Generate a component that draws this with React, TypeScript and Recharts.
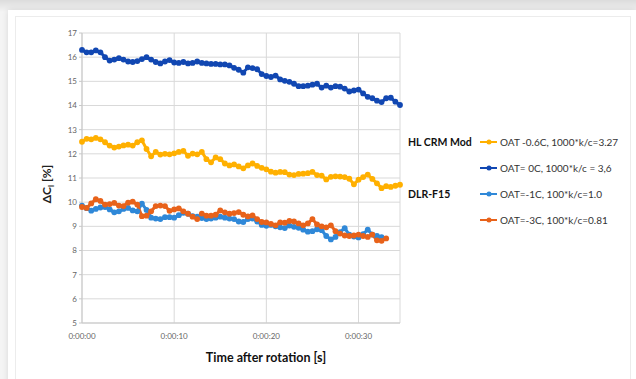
import { LineChart, Line, XAxis, YAxis, CartesianGrid } from "recharts";

// sample times [s]
const times = [
  0, 0.5, 1, 1.5, 2, 2.5, 3, 3.5, 4, 4.5, 5, 5.5, 6, 6.5, 7, 7.5, 8, 8.5, 9, 9.5,
  10, 10.5, 11, 11.5, 12, 12.5, 13, 13.5, 14, 14.5, 15, 15.5, 16, 16.5, 17, 17.5,
  18, 18.5, 19, 19.5, 20, 20.5, 21, 21.5, 22, 22.5, 23, 23.5, 24, 24.5, 25, 25.5,
  26, 26.5, 27, 27.5, 28, 28.5, 29, 29.5, 30, 30.5, 31, 31.5, 32, 32.5, 33, 33.5,
  34, 34.5,
];

// HL CRM Mod, OAT -0.6C
const hlWarm = [
  12.5, 12.62, 12.6, 12.66, 12.6, 12.48, 12.34, 12.26, 12.3, 12.35, 12.38, 12.34,
  12.48, 12.56, 12.2, 11.9, 12.08, 11.97, 12.0, 11.98, 12.02, 12.08, 12.12, 11.92,
  12.01, 11.98, 12.08, 11.78, 11.65, 11.85, 11.78, 11.6, 11.52, 11.56, 11.48, 11.4,
  11.52, 11.6, 11.5, 11.42, 11.36, 11.26, 11.22, 11.25, 11.24, 11.14, 11.12, 11.17,
  11.18, 11.2, 11.25, 11.12, 11.1, 10.94, 11.05, 11.07, 11.06, 11.04, 10.97, 10.74,
  10.93, 11.04, 11.14, 10.96, 10.78, 10.58, 10.66, 10.63, 10.68, 10.72,
];

// HL CRM Mod, OAT 0C
const hlCold = [
  16.3, 16.2, 16.2, 16.28, 16.2, 16.0, 15.86, 15.9, 15.96, 15.9, 15.82, 15.8,
  15.84, 15.92, 16.0, 15.9, 15.8, 15.74, 15.82, 15.88, 15.78, 15.76, 15.8, 15.74,
  15.76, 15.82, 15.76, 15.74, 15.72, 15.72, 15.7, 15.7, 15.66, 15.56, 15.48, 15.36,
  15.58, 15.55, 15.5, 15.3, 15.22, 15.18, 15.24, 15.08, 15.02, 14.98, 14.9, 14.8,
  14.8, 14.82, 14.86, 14.9, 14.74, 14.82, 14.74, 14.8, 14.78, 14.7, 14.58, 14.62,
  14.66, 14.5, 14.36, 14.3, 14.2, 14.14, 14.3, 14.32, 14.16, 14.02,
];

// DLR-F15, OAT -1C
const dlrA = [
  9.86, 9.75, 9.65, 9.72, 9.78, 9.8, 9.7, 9.58, 9.62, 9.72, 9.76, 9.66, 9.62, 9.94,
  9.68, 9.36, 9.32, 9.3, 9.38, 9.38, 9.36, 9.46, 9.56, 9.52, 9.42, 9.4, 9.34, 9.3,
  9.32, 9.36, 9.4, 9.36, 9.32, 9.3, 9.2, 9.18, 9.3, 9.32, 9.2, 9.06, 9.02, 9.06,
  9.0, 8.96, 8.93, 9.03, 8.98, 8.94, 8.86, 8.78, 8.8, 8.88, 8.84, 8.6, 8.46, 8.56,
  8.76, 8.92, 8.66, 8.58, 8.54, 8.68, 8.86, 8.66, 8.6, 8.55,
];

// DLR-F15, OAT -3C
const dlrB = [
  9.8, 9.76, 9.95, 10.12, 10.05, 9.9, 9.92, 9.97, 9.86, 9.84, 9.98, 10.02, 9.9,
  9.42, 9.44, 9.62, 9.84, 9.86, 9.84, 9.64, 9.7, 9.74, 9.62, 9.52, 9.4, 9.3, 9.53,
  9.44, 9.44, 9.48, 9.66, 9.58, 9.52, 9.55, 9.59, 9.48, 9.41, 9.45, 9.3, 9.18, 9.16,
  9.1, 9.04, 9.16, 9.15, 9.22, 9.2, 9.12, 9.04, 9.12, 9.3, 9.08, 9.0, 8.96, 9.04,
  8.8, 8.7, 8.62, 8.6, 8.62, 8.66, 8.6, 8.56, 8.66, 8.42, 8.4, 8.5,
];

const seriesKeys = ["hlWarm", "hlCold", "dlrA", "dlrB"];
const seriesNames = [
  "OAT -0.6C, 1000*k/c=3.27",
  "OAT= 0C, 1000*k/c = 3,6",
  "OAT=-1C, 100*k/c=1.0",
  "OAT=-3C, 100*k/c=0.81",
];
const seriesColors = ["#FFB000", "#1147B2", "#2F88D8", "#E8621A"];
const groupLabels = ["HL CRM Mod", "", "DLR-F15", ""];
const xTicks = [0, 10, 20, 30];
const yTicks = [5, 6, 7, 8, 9, 10, 11, 12, 13, 14, 15, 16, 17];

const data = times.map((t, i) => ({
  t,
  hlWarm: hlWarm[i],
  hlCold: hlCold[i],
  dlrA: dlrA[i],
  dlrB: dlrB[i],
}));

const FONT = "Lato, 'Liberation Sans', sans-serif";

const fmtTime = (s: number) => `0:00:${String(s).padStart(2, "0")}`;

function YTitle() {
  return (
    <text
      transform="translate(51, 184) rotate(-90)"
      textAnchor="middle"
      fontFamily={FONT}
      fontWeight={700}
      fontSize={12}
      fill="#222"
    >
      ΔC
      <tspan fontSize={8} dy={3}>l</tspan>
      <tspan dy={-3}>{"  [%]"}</tspan>
    </text>
  );
}

function LegendBox() {
  return (
    <div
      style={{
        position: "absolute",
        left: 408,
        top: 129,
        fontFamily: FONT,
        fontSize: 10,
        color: "#333",
      }}
    >
      {seriesNames.map((name, i) => (
        <div key={i} style={{ display: "flex", alignItems: "center", height: 26 }}>
          <span style={{ width: 72, fontWeight: 700, fontSize: 10.5, color: "#111" }}>
            {groupLabels[i]}
          </span>
          <svg width={19} height={8} style={{ marginRight: 1 }}>
            <line x1={0} y1={4} x2={17} y2={4} stroke={seriesColors[i]} strokeWidth={2} />
            <circle cx={9} cy={4} r={2.5} fill={seriesColors[i]} />
          </svg>
          <span>{name}</span>
        </div>
      ))}
    </div>
  );
}

export default function App() {
  return (
    <div
      style={{
        position: "absolute",
        left: 0,
        top: 0,
        width: 636,
        height: 379,
        overflow: "hidden",
        background: "linear-gradient(#dcdcdc, #f4f4f4 12px)",
      }}
    >
      <div
        style={{
          position: "absolute",
          left: 8,
          top: 10,
          width: 628,
          height: 400,
          background: "#fff",
          boxShadow: "0 0 6px rgba(0,0,0,0.12)",
        }}
      />
      <div
        style={{
          position: "absolute",
          left: 15,
          top: 16,
          width: 614,
          height: 400,
          border: "1px solid #ececec",
        }}
      />
      <div style={{ position: "absolute", left: 0, top: 0 }}>
        <LineChart
          width={636}
          height={379}
          data={data}
          margin={{ top: 33, right: 236, bottom: 26, left: 0 }}
        >
          <CartesianGrid stroke="#d9d9d9" strokeWidth={1} />
          <XAxis
            dataKey="t"
            type="number"
            domain={[0, 34.5]}
            ticks={xTicks}
            tickFormatter={fmtTime}
            height={30}
            stroke="#c8c8c8"
            tickLine={false}
            tick={{ fill: "#666", fontSize: 8, fontFamily: FONT }}
            tickMargin={4}
            label={{
              value: "Time after rotation [s]",
              position: "insideBottom",
              dx: 25,
              dy: 14,
              fill: "#111",
              fontSize: 12.5,
              fontWeight: 700,
              fontFamily: FONT,
            }}
          />
          <YAxis
            type="number"
            domain={[5, 17]}
            ticks={yTicks}
            width={82}
            stroke="#c8c8c8"
            tickSize={3}
            tick={{ fill: "#666", fontSize: 8, fontFamily: FONT }}
            interval={0}
            label={{ content: <YTitle /> }}
          />
          {seriesKeys.map((key, i) => (
            <Line
              key={key}
              dataKey={key}
              name={seriesNames[i]}
              stroke={seriesColors[i]}
              strokeWidth={3}
              dot={{ r: 2.9, fill: seriesColors[i], strokeWidth: 0 }}
              isAnimationActive={false}
            />
          ))}
        </LineChart>
      </div>
      <LegendBox />
    </div>
  );
}
